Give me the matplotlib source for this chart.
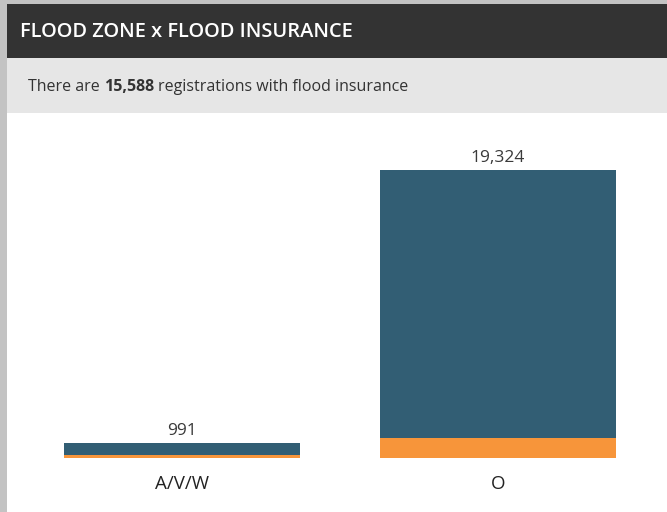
import matplotlib
matplotlib.use('Agg')
import matplotlib.pyplot as plt
from matplotlib.patches import Rectangle

zones = ['A/V/W', 'O']
insured_part = [791, 17984]      # dark teal segment (top)
other_part = [200, 1340]         # orange segment (bottom)
totals = [991, 19324]

W, H = 667, 512
fig = plt.figure(figsize=(W / 100, H / 100), dpi=100, facecolor='white')
plt.rcParams['font.family'] = ['Open Sans', 'DejaVu Sans']


def fy(px):
    return 1 - px / H


# gray frame (left + top), header and subtitle bars
for x0, y0, w, h, c in [(0, 0, 7, H, '#c3c3c3'), (0, H - 4, W + 10, 10, '#c3c3c3'),
                        (7, H - 58, W + 10, 54, '#333333'),
                        (7, H - 113, W + 10, 55, '#e6e6e6')]:
    fig.patches.append(Rectangle((x0 / W, y0 / H), w / W, h / H, transform=fig.transFigure,
                                 facecolor=c, edgecolor='none', zorder=-5))

fig.text(20 / W, fy(32), 'FLOOD ZONE x FLOOD INSURANCE', color='white',
         fontsize=14.4, fontweight='semibold', va='center', ha='left')
t1 = fig.text(28 / W, fy(87), 'There are', color='#333333', fontsize=11.5,
              va='center', ha='left')
fig.canvas.draw()
r = fig.canvas.get_renderer()
bb = t1.get_window_extent(r)
t2 = fig.text((bb.x1 + 4) / W, fy(87), '15,588', color='#333333', fontsize=11.5,
              fontweight='bold', va='center', ha='left')
bb2 = t2.get_window_extent(r)
fig.text((bb2.x1 + 4) / W, fy(87), 'registrations with flood insurance', color='#333333',
         fontsize=11.5, va='center', ha='left')

# bar area: bottom at y=458px, 19324 -> 288px
ax = fig.add_axes([7 / W, (H - 458) / H, 660 / W, 345 / H])
ax.set_facecolor('none')
x = range(len(zones))
ax.bar(x, other_part, width=0.747, color='#f7953a')
ax.bar(x, insured_part, bottom=other_part, width=0.747, color='#325e74')
for i, t in enumerate(totals):
    ax.annotate(f'{t:,}', (i, t), xytext=(0, 3), textcoords='offset points',
                ha='center', va='bottom', fontsize=12.5, color='#3a3a3a')
ax.set_xlim(-0.5538, 1.5348)
ax.set_ylim(0, 19324 * 345 / 288)
ax.set_xticks(list(x))
ax.set_xticklabels(zones, fontsize=13.5, color='#222222')
ax.tick_params(axis='x', length=0, pad=12)
ax.set_yticks([])
for s in ax.spines.values():
    s.set_visible(False)

fig.savefig('out.png', dpi=100, facecolor=fig.get_facecolor())
